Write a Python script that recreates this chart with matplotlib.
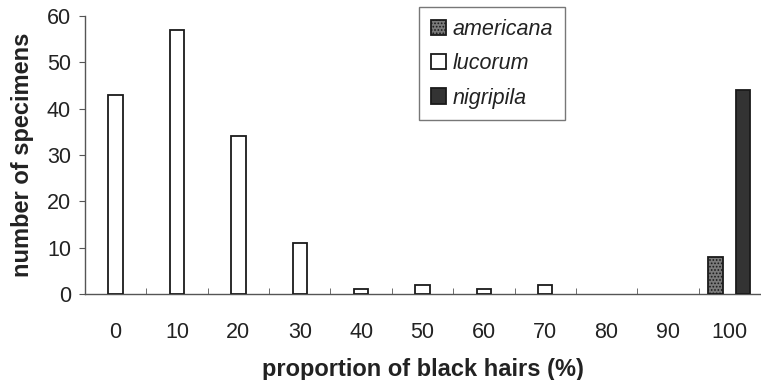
import matplotlib
matplotlib.use("Agg")
import matplotlib.pyplot as plt
import numpy as np

plt.rcParams['font.family'] = ['Liberation Sans', 'DejaVu Sans']
plt.rcParams['hatch.linewidth'] = 0.8

# data
categories = ['0', '10', '20', '30', '40', '50', '60', '70', '80', '90', '100']
americana = [0, 0, 0, 0, 0, 0, 0, 0, 0, 0, 8]
lucorum = [43, 57, 34, 11, 1, 2, 1, 2, 0, 0, 0]
nigripila = [0, 0, 0, 0, 0, 0, 0, 0, 0, 0, 44]

txt = '#222222'
axc = '#555555'

fig = plt.figure(figsize=(7.61, 3.80), dpi=100)
ax = fig.add_axes([85 / 761, 1 - 294 / 380, 675 / 761, 278 / 380])

x = np.arange(len(categories))
w = 0.235
off = 0.225

def draw(vals, dx, **kw):
    v = np.array(vals, dtype=float)
    m = v > 0
    return ax.bar(x[m] + dx, v[m], width=w, linewidth=1.3, edgecolor='#1a1a1a', zorder=3, **kw)

b_am = draw(americana, -off, facecolor='#7a7a7a', hatch='.....')
b_lu = draw(lucorum, 0, facecolor='white')
b_ni = draw(nigripila, off, facecolor='#333333')

ax.set_xlim(-0.5, len(categories) - 0.5)
ax.set_ylim(0, 60)
ax.set_yticks(range(0, 61, 10))
ax.set_xticks(x)
ax.set_xticklabels(categories)
ax.set_xticks(np.arange(0.5, len(categories) - 0.5, 1), minor=True)

for s in ['top', 'right']:
    ax.spines[s].set_visible(False)
for s in ['left', 'bottom']:
    ax.spines[s].set_color(axc)
    ax.spines[s].set_linewidth(1.0)

ax.tick_params(axis='y', direction='out', length=4, color=axc, labelsize=15.5, labelcolor=txt, pad=6)
ax.tick_params(axis='x', which='major', length=0, labelsize=15.5, labelcolor=txt, pad=20)
ax.tick_params(axis='x', which='minor', direction='in', length=4, color=axc)

ax.set_xlabel('proportion of black hairs (%)', fontsize=17, fontweight='bold', color=txt, labelpad=11)
ax.set_ylabel('number of specimens', fontsize=17, fontweight='bold', color=txt, labelpad=9)

leg = fig.legend([b_am, b_lu, b_ni], ['americana', 'lucorum', 'nigripila'],
                 loc='upper left', bbox_to_anchor=(419 / 761, 1 - 7 / 380),
                 prop={'size': 15.5, 'style': 'italic'}, fancybox=False,
                 handlelength=0.7, handleheight=0.7, handletextpad=0.3,
                 labelspacing=0.62, borderpad=0.55, borderaxespad=0)
leg.get_frame().set_edgecolor(axc)
leg.get_frame().set_linewidth(1.0)
for t in leg.get_texts():
    t.set_color(txt)

fig.savefig('out.png', dpi=100)
